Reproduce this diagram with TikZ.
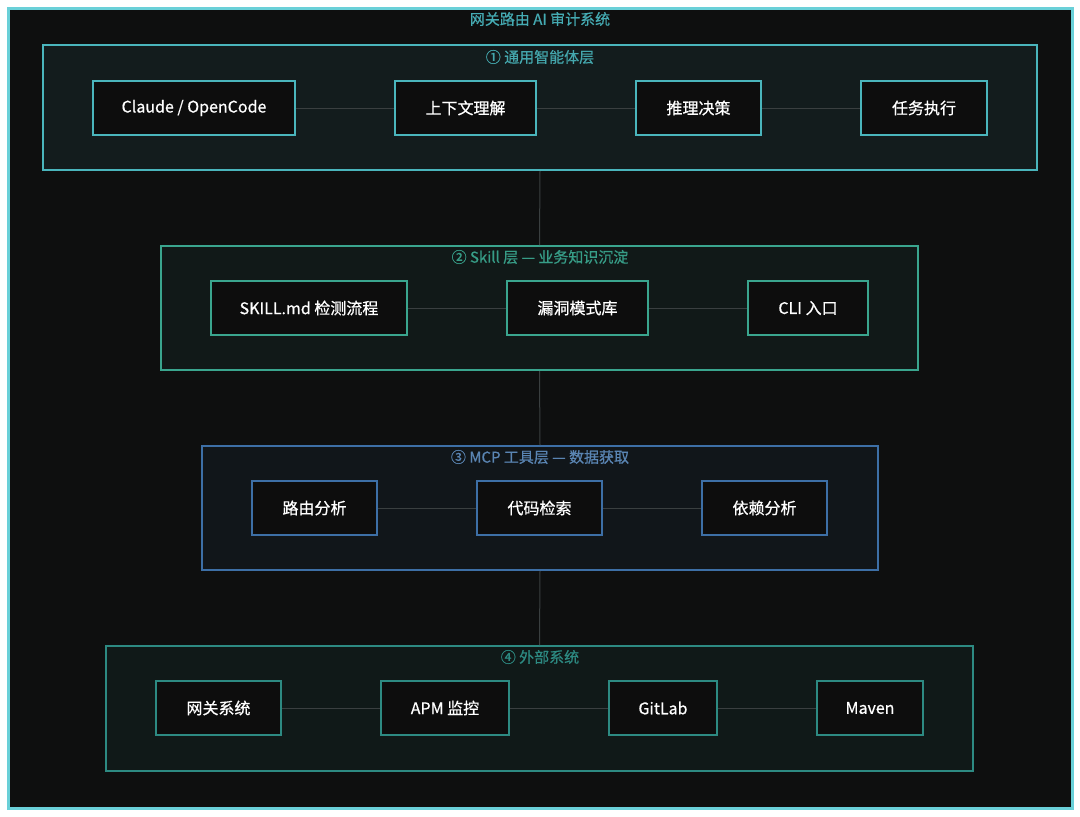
\documentclass[tikz,border=0pt]{standalone}
\usepackage{fontspec}
\setmainfont{Noto Sans CJK SC}[FakeBold=0.6]
\usetikzlibrary{positioning}

\definecolor{bgdark}{HTML}{0E0F0F}
\definecolor{frameC}{HTML}{6AD0D8}
\definecolor{titleC}{HTML}{45ABB3}
\definecolor{agentC}{HTML}{4AB5BC}
\definecolor{skillC}{HTML}{3AA58E}
\definecolor{mcpC}{HTML}{3D6FA6}
\definecolor{extC}{HTML}{2D8A82}
\definecolor{linkC}{HTML}{3A3F40}

\begin{document}
\begin{tikzpicture}[x=1pt,y=-1pt,font=\fontsize{15}{18}\selectfont]
      \tikzstyle{layer}=[draw,rectangle,line width=2pt,inner sep=0pt]
      \tikzstyle{block}=[draw,rectangle,line width=2pt,fill=black!95,text=white,minimum height=54,font=\fontsize{16}{19}\selectfont]
      \tikzstyle{layertitle}=[inner sep=0pt]
      \tikzstyle{link}=[draw=linkC,line width=1pt]

      \useasboundingbox[fill=white] (0,0) rectangle (1080,817);
      \draw[frameC,fill=bgdark,line width=3pt] (8,8) rectangle (1072,808);
      \node[layertitle,text=titleC] (title) at (540,19) {网关路由 AI 审计系统};

      % layer boxes
      \node[layer,draw=agentC,fill=agentC!8!bgdark,minimum width=994,minimum height=125] (L1) at (540,107.5) {};
      \node[layer,draw=skillC,fill=skillC!7!bgdark,minimum width=757,minimum height=124] (L2) at (539.5,308) {};
      \node[layer,draw=mcpC,fill=mcpC!7!bgdark,minimum width=676,minimum height=124] (L3) at (540,508) {};
      \node[layer,draw=extC,fill=extC!8!bgdark,minimum width=867,minimum height=125] (L4) at (539.5,708.5) {};

      \node[layertitle,text=agentC!92!black] (T1) at (540,57) {① 通用智能体层};
      \node[layertitle,text=skillC!95!black] (T2) at (540,257) {② Skill 层 — 业务知识沉淀};
      \node[layertitle,text=mcpC!85!white] (T3) at (540,457) {③ MCP 工具层 — 数据获取};
      \node[layertitle,text=extC] (T4) at (540,657) {④ 外部系统};

      % layer 1
      \node[block,draw=agentC,minimum width=202] (claude) at (194,108) {Claude / OpenCode};
      \node[block,draw=agentC,minimum width=141] (ctx) at (465.5,108) {上下文理解};
      \node[block,draw=agentC,minimum width=125] (reason) at (698.5,108) {推理决策};
      \node[block,draw=agentC,minimum width=126] (exec) at (924,108) {任务执行};

      % layer 2
      \node[block,draw=skillC,minimum width=196] (skillmd) at (309,308) {SKILL.md 检测流程};
      \node[block,draw=skillC,minimum width=141] (vuln) at (577.5,308) {漏洞模式库};
      \node[block,draw=skillC,minimum width=120] (cli) at (808,308) {CLI 入口};

      % layer 3
      \node[block,draw=mcpC,minimum width=125] (route) at (314.5,508) {路由分析};
      \node[block,draw=mcpC,minimum width=125] (code) at (539.5,508) {代码检索};
      \node[block,draw=mcpC,minimum width=125] (dep) at (764.5,508) {依赖分析};

      % layer 4
      \node[block,draw=extC,minimum width=125] (gw) at (218.5,708) {网关系统};
      \node[block,draw=extC,minimum width=128] (apm) at (445,708) {APM 监控};
      \node[block,draw=extC,minimum width=108] (gitlab) at (663,708) {GitLab};
      \node[block,draw=extC,minimum width=106] (maven) at (870,708) {Maven};

      \draw[link] (claude)--(ctx);
      \draw[link] (ctx)--(reason);
      \draw[link] (reason)--(exec);
      \draw[link] (skillmd)--(vuln);
      \draw[link] (vuln)--(cli);
      \draw[link] (route)--(code);
      \draw[link] (code)--(dep);
      \draw[link] (gw)--(apm);
      \draw[link] (apm)--(gitlab);
      \draw[link] (gitlab)--(maven);

      \draw[link] (L1.south)--(L2.north);
      \draw[link] (L2.south)--(L3.north);
      \draw[link] (L3.south)--(L4.north);
    \end{tikzpicture}
\end{document}
